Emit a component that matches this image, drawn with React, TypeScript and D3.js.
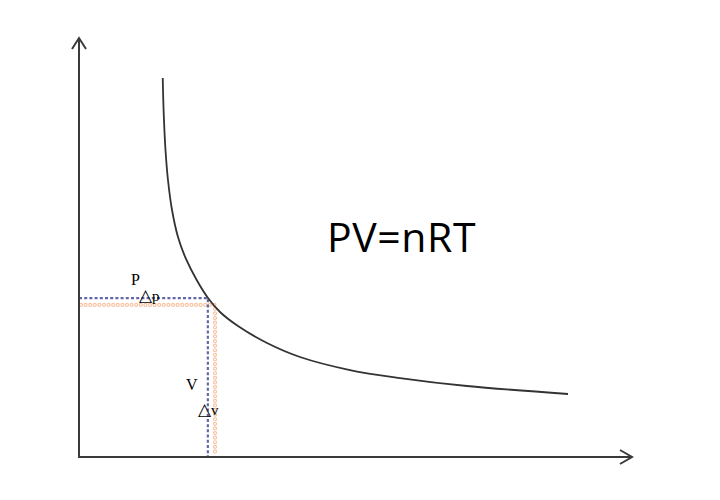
import React from "react";
import * as d3 from "d3";

// Isotherm data (V, P) in abstract units
const volumes = [1.514, 1.533, 1.564, 1.609, 1.682, 1.79, 1.935, 2.128, 2.333, 2.55, 2.875, 3.4, 3.996, 4.9, 5.805, 7.016, 8.843];
const pressures = [9.045, 8.162, 7.327, 6.611, 5.895, 5.251, 4.726, 4.224, 3.795, 3.461, 3.126, 2.721, 2.387, 2.076, 1.885, 1.695, 1.504];

// Reference state and perturbed state
const refPoint = [2.33, 3.79];
const perturbedPoint = [2.46, 3.63];

const formula = "PV=nRT";
const labelP = "P";
const labelV = "V";
const deltaSymbol = "△";
const labelDp = "p";
const labelDv = "v";

const W = 720;
const H = 500;

export default function App() {
  const x = d3.scaleLinear().domain([0, 10]).range([79, 632]);
  const y = d3.scaleLinear().domain([0, 10]).range([457, 38]);

  const data = volumes.map((v, i) => [v, pressures[i]] as [number, number]);
  const line = d3
    .line<[number, number]>()
    .x((d) => x(d[0]))
    .y((d) => y(d[1]))
    .curve(d3.curveCatmullRom.alpha(0.5));

  const x0 = x(0);
  const y0 = y(0);
  const xEnd = x(10);
  const yTop = y(10);

  const rx = x(refPoint[0]);
  const ry = y(refPoint[1]);
  const px = x(perturbedPoint[0]);
  const py = y(perturbedPoint[1]);

  const axisColor = "#3a3a3a";
  const serif = "'Liberation Serif', 'Times New Roman', serif";
  const guidePerturbed = `M${x0 + 2},${py}H${px}V${y0 - 2}`;

  return (
    <svg width={W} height={H} style={{ position: "absolute", left: 0, top: 0, background: "#fff" }}>
      {/* perturbed (orange circles) guide */}
      <path
        d={guidePerturbed}
        fill="none"
        stroke="#f8c4a4"
        strokeWidth={4.2}
        strokeLinecap="round"
        strokeDasharray="0 4.6"
      />
      <path
        d={guidePerturbed}
        fill="none"
        stroke="#ffffff"
        strokeWidth={1.8}
        strokeLinecap="round"
        strokeDasharray="0 4.6"
      />
      {/* reference (blue dotted) guide */}
      <path
        d={`M${x0},${ry}H${rx}V${y0}`}
        fill="none"
        stroke="#6467a6"
        strokeWidth={2.2}
        strokeDasharray="3 2.2"
      />
      {/* curve */}
      <path d={line(data) ?? ""} fill="none" stroke="#333" strokeWidth={1.8} />
      {/* axes */}
      <path
        d={`M${x0},${yTop}V${y0}H${xEnd}`}
        fill="none"
        stroke={axisColor}
        strokeWidth={2}
      />
      <path
        d={`M${x0 - 7},${yTop + 11}L${x0},${yTop}L${x0 + 7},${yTop + 11}`}
        fill="none"
        stroke={axisColor}
        strokeWidth={2}
      />
      <path
        d={`M${xEnd - 12},${y0 - 7}L${xEnd},${y0}L${xEnd - 12},${y0 + 7}`}
        fill="none"
        stroke={axisColor}
        strokeWidth={2}
      />
      {/* labels */}
      <text x={131} y={285} fontFamily={serif} fontSize={16} fill="#000">{labelP}</text>
      <text x={139} y={301} fontFamily={serif} fill="#000">
        <tspan fontSize={17}>{deltaSymbol}</tspan>
        <tspan fontSize={15}>{labelDp}</tspan>
      </text>
      <text x={186} y={390} fontFamily={serif} fontSize={16} fill="#000">{labelV}</text>
      <text x={198} y={415} fontFamily={serif} fill="#000">
        <tspan fontSize={17}>{deltaSymbol}</tspan>
        <tspan fontSize={15}>{labelDv}</tspan>
      </text>
      <text
        x={327}
        y={252}
        fontFamily="'Open Sans', 'Liberation Sans', sans-serif"
        fontSize={41}
        letterSpacing={0.6}
        fill="#000"
      >
        {formula}
      </text>
    </svg>
  );
}
